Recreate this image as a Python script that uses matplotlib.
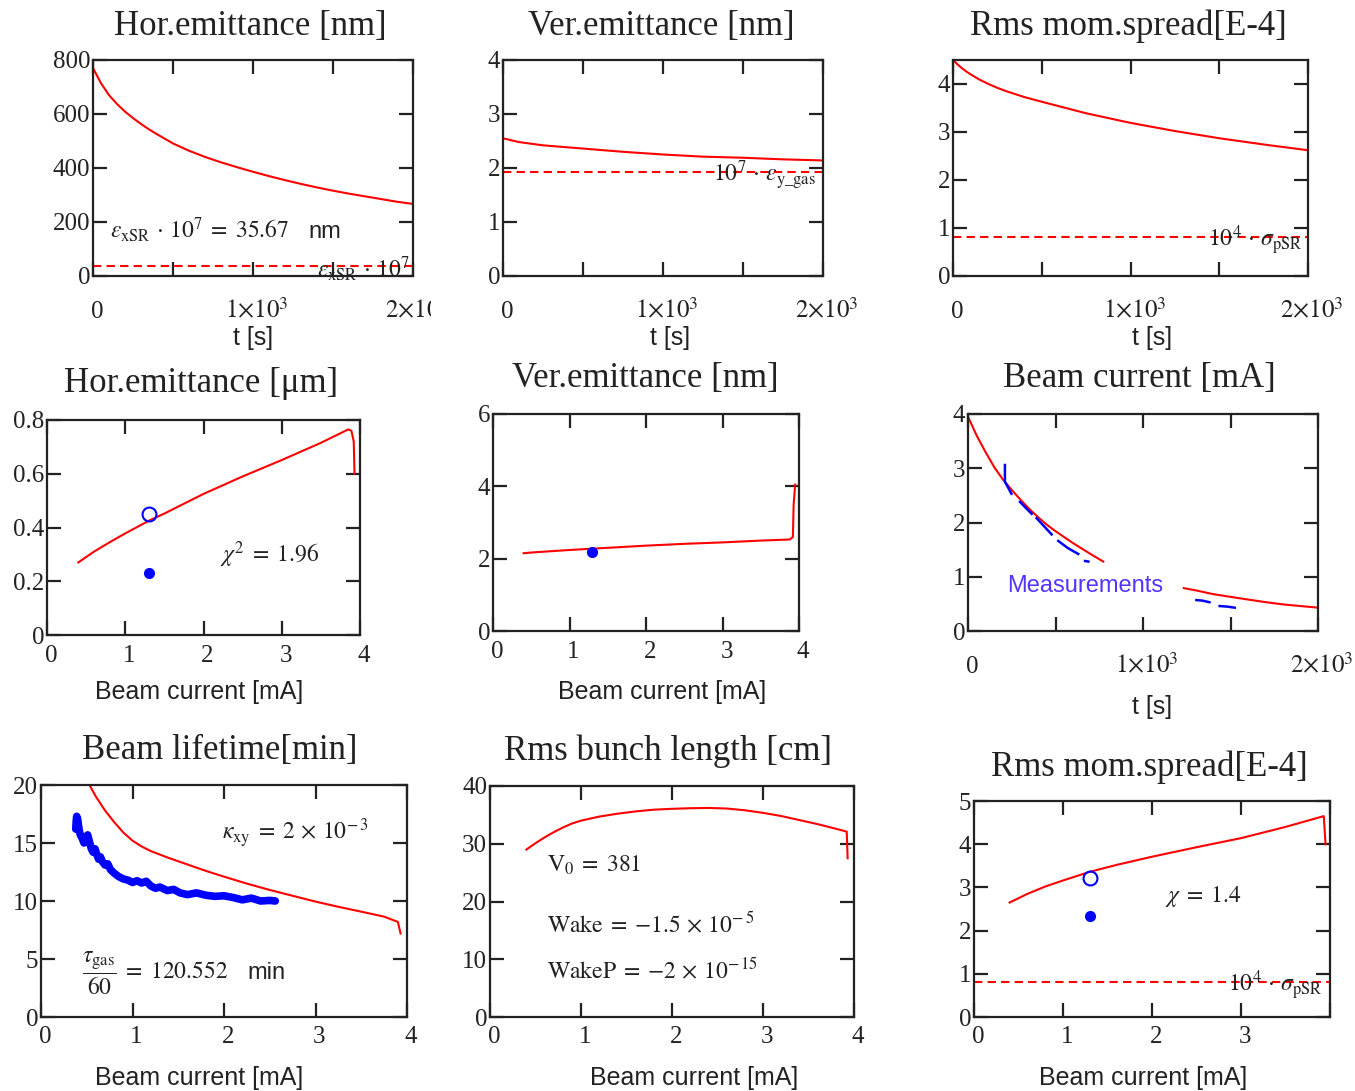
import numpy as np
import matplotlib
matplotlib.use('Agg')
import matplotlib.pyplot as plt
from matplotlib.transforms import Bbox, blended_transform_factory, offset_copy

plt.rcParams['mathtext.fontset'] = 'stix'
plt.rcParams['font.family'] = ['Liberation Serif', 'DejaVu Serif']

W, H = 1355, 1091
RED = '#ff0000'
BLUE = '#0000ff'
INK = '#222222'
MEAS = '#5533ff'
nan = np.nan

# ---------------- data ----------------
# Panel 1: horizontal emittance [nm] vs t [s]
t_hx = [0, 0, 50, 100, 150, 200, 250, 300, 350, 400, 450, 500, 600, 700, 800,
        900, 1000, 1100, 1200, 1300, 1400, 1500, 1600, 1700, 1800, 1900, 2000]
hx_nm = [600, 770, 714, 670, 637, 609, 585, 563, 543, 525, 508, 491, 464, 441,
         421, 403, 386, 370, 355, 341, 328, 316, 305, 295, 285, 275, 267]
eps_xSR_nm = 35.67

# Panel 2: vertical emittance [nm] vs t
t_vy = [0, 0, 100, 250, 500, 750, 1000, 1250, 1500, 1750, 2000]
vy_nm = [4.0, 2.55, 2.48, 2.42, 2.36, 2.30, 2.25, 2.21, 2.19, 2.16, 2.14]
eps_y_gas_nm = 1.93

# Panel 3: rms momentum spread [E-4] vs t
t_sp = [0, 0, 25, 50, 75, 100, 150, 200, 250, 300, 400, 500, 750, 1000, 1250,
        1500, 1750, 2000]
sp_t = [4.0, 4.5, 4.41, 4.33, 4.26, 4.20, 4.09, 4.00, 3.92, 3.85, 3.73, 3.63,
        3.39, 3.19, 3.02, 2.87, 2.74, 2.62]
sigma_pSR = 0.82

# Panel 4: horizontal emittance [um] vs beam current [mA]
I_hx = [0.40, 0.50, 0.60, 0.80, 1.00, 1.30, 1.50, 2.00, 2.50, 3.00, 3.50,
        3.85, 3.89, 3.92, 3.93]
hx_um = [0.270, 0.290, 0.310, 0.345, 0.378, 0.425, 0.452, 0.525, 0.590,
         0.651, 0.715, 0.765, 0.760, 0.720, 0.600]
meas_I = 1.30
hx_meas_open = 0.452
hx_meas_fill = 0.232

# Panel 5: vertical emittance [nm] vs beam current
I_vy = [0.40, 0.50, 1.00, 1.50, 2.00, 2.50, 3.00, 3.50, 3.88, 3.92, 3.93, 3.95]
vy_I = [2.15, 2.17, 2.24, 2.30, 2.36, 2.41, 2.45, 2.50, 2.53, 2.60, 3.50, 4.05]
vy_meas = 2.19

# Panel 6: beam current [mA] vs t [s]; model (red) and measurements (blue)
t_cur = [0, 50, 100, 150, 200, 250, 300, 350, 400, 450, 500, 550, 600, 650,
         700, 773, nan, 1233, 1300, 1400, 1519, 1600, 1705, 1800, 1900, 2000]
cur = [3.95, 3.60, 3.30, 3.02, 2.79, 2.60, 2.42, 2.25, 2.10, 1.96, 1.84, 1.73,
       1.62, 1.52, 1.42, 1.28, nan, 0.79, 0.75, 0.68, 0.62, 0.58, 0.53, 0.49,
       0.46, 0.43]
t_meas = [211, 211, 230, 248, nan, 297, 330, 364, nan, 392, 435, 478, nan,
          516, 570, 630, nan, 669, 688, nan, 1305, 1340, 1380, nan,
          1438, 1480, 1524]
cur_meas = [3.06, 2.75, 2.64, 2.53, nan, 2.38, 2.27, 2.16, nan, 2.08, 1.93,
            1.78, nan, 1.66, 1.53, 1.42, nan, 1.29, 1.28, nan, 0.57, 0.56,
            0.53, nan, 0.46, 0.45, 0.43]

# Panel 7: beam lifetime [min] vs beam current
I_life = [0.53, 0.60, 0.70, 0.80, 0.90, 1.00, 1.10, 1.20, 1.30, 1.40, 1.60,
          1.80, 2.00, 2.25, 2.50, 2.75, 3.00, 3.25, 3.50, 3.75, 3.90, 3.93]
life = [20.0, 19.0, 17.8, 16.8, 15.9, 15.2, 14.7, 14.3, 14.0, 13.7, 13.15,
        12.6, 12.1, 11.5, 10.95, 10.45, 9.95, 9.5, 9.08, 8.65, 8.2, 7.2]
I_life_meas = [0.38, 0.385, 0.39, 0.40, 0.41, 0.42, 0.43, 0.45, 0.47, 0.49,
               0.51, 0.53, 0.55, 0.57, 0.59, 0.61, 0.63, 0.65, 0.67, 0.70,
               0.73, 0.76, 0.80, 0.85, 0.90, 0.95, 1.00, 1.05, 1.10, 1.15,
               1.20, 1.25, 1.30, 1.38, 1.45, 1.52, 1.60, 1.70, 1.80, 1.90,
               2.00, 2.10, 2.20, 2.30, 2.40, 2.50, 2.56]
life_meas = [16.2, 16.9, 17.3, 17.1, 16.5, 16.0, 15.7, 15.4, 15.0, 15.5,
             15.7, 15.1, 14.5, 14.2, 14.5, 14.0, 13.6, 13.8, 13.4, 13.1,
             13.2, 12.7, 12.4, 12.1, 11.9, 11.8, 11.6, 11.75, 11.55, 11.7,
             11.3, 11.1, 11.2, 10.9, 11.0, 10.7, 10.55, 10.7, 10.5, 10.4,
             10.45, 10.3, 10.1, 10.25, 10.0, 10.05, 10.0]

# Panel 8: rms bunch length [cm] vs beam current
I_bl = [0.40, 0.50, 0.60, 0.70, 0.80, 0.90, 1.00, 1.20, 1.40, 1.60, 1.80,
        2.00, 2.20, 2.40, 2.60, 2.80, 3.00, 3.20, 3.40, 3.60, 3.80, 3.92, 3.93]
bl = [29.0, 30.1, 31.1, 32.0, 32.8, 33.5, 34.0, 34.7, 35.2, 35.6, 35.9,
      36.05, 36.15, 36.2, 36.1, 35.8, 35.35, 34.8, 34.1, 33.4, 32.6, 32.1, 27.5]

# Panel 9: rms momentum spread [E-4] vs beam current
I_sp = [0.40, 0.60, 0.80, 1.00, 1.30, 1.60, 2.00, 2.50, 3.00, 3.50, 3.93, 3.95]
sp_I = [2.65, 2.85, 3.02, 3.16, 3.36, 3.52, 3.71, 3.93, 4.14, 4.40, 4.65, 4.00]
sp_meas_open = 3.22
sp_meas_fill = 2.33

# ---------------- figure ----------------
fig = plt.figure(figsize=(W / 100, H / 100), dpi=100)


def add_ax(l, t, r, b):
    return fig.add_axes([l / W, 1 - b / H, (r - l) / W, (b - t) / H])


def ftext(x, y, s, **kw):
    kw.setdefault('color', INK)
    return fig.text(x / W, 1 - y / H, s, **kw)


def style(ax, xlim, ylim, xticks, xlabels, yticks, ylabels, xbase, clip_x=None):
    ax.set_xlim(xlim)
    ax.set_ylim(ylim)
    ax.set_xticks(xticks)
    ax.set_yticks(yticks)
    ax.set_yticklabels(ylabels)
    ax.tick_params(direction='in', length=10, width=1.6, top=True, right=True,
                   colors=INK, labelsize=18)
    ax.tick_params(axis='x', labelbottom=False)
    ax.tick_params(axis='y', pad=2)
    for s in ax.spines.values():
        s.set_linewidth(1.6)
        s.set_color(INK)
    tr = offset_copy(blended_transform_factory(ax.transData, fig.transFigure),
                     fig=fig, x=4, y=0, units='dots')
    for xv, lab in zip(xticks, xlabels):
        if not lab:
            continue
        t = ax.text(xv, 1 - xbase / H, lab, transform=tr, ha='center',
                    va='baseline', fontsize=18, color=INK, clip_on=False)
        if clip_x is not None:
            t.set_clip_box(Bbox.from_extents(0, 0, clip_x, H))
            t.set_clip_on(True)


sci1 = r'$1{\times}10^{3}$'
sci2 = r'$2{\times}10^{3}$'
tx = [0, 500, 1000, 1500, 2000]
txl = ['0', '', sci1, '', sci2]
ix = [0, 1, 2, 3, 4]
ixl = ['0', '1', '2', '3', '4']

TITLE = dict(fontsize=25, ha='center', va='center', family='Liberation Serif')
XLAB = dict(fontsize=18, ha='center', va='center', family='Liberation Sans')
ANN = dict(fontsize=17, ha='left', va='baseline')
DASH = dict(color=RED, lw=1.5, dashes=(4, 2.5))

# Panel 1
ax1 = add_ax(93, 60, 413, 276)
ax1.plot(t_hx, hx_nm, color=RED, lw=1.5)
ax1.axhline(eps_xSR_nm, **DASH)
style(ax1, (0, 2000), (0, 800), tx, txl, [0, 200, 400, 600, 800],
      ['0', '200', '400', '600', '800'], 318, clip_x=431)
ftext(250, 26, 'Hor.emittance [nm]', **TITLE)
ftext(253, 338, 't [s]', **XLAB)
ftext(110, 238, r'$\varepsilon_{\mathrm{xSR}}\,\cdot\,10^{7}\;=\;35.67$', **ANN)
ftext(308, 238, 'nm', fontsize=17, ha='left', va='baseline', family='Liberation Sans')
ftext(317, 277, r'$\varepsilon_{\mathrm{xSR}}\,\cdot\,10^{7}$', **ANN)

# Panel 2
ax2 = add_ax(503, 60, 823, 276)
ax2.plot(t_vy, vy_nm, color=RED, lw=1.5)
ax2.axhline(eps_y_gas_nm, **DASH)
style(ax2, (0, 2000), (0, 4), tx, txl, [0, 1, 2, 3, 4],
      ['0', '1', '2', '3', '4'], 318)
ftext(661, 26, 'Ver.emittance [nm]', **TITLE)
ftext(670, 338, 't [s]', **XLAB)
ftext(713, 182, r'$10^{7}\,\cdot\,\varepsilon_{\mathrm{y\_gas}}$', **ANN)

# Panel 3
ax3 = add_ax(953, 60, 1308, 276)
ax3.plot(t_sp, sp_t, color=RED, lw=1.5)
ax3.axhline(sigma_pSR, **DASH)
style(ax3, (0, 2000), (0, 4.5), tx, txl, [0, 1, 2, 3, 4],
      ['0', '1', '2', '3', '4'], 318)
ftext(1128, 26, 'Rms mom.spread[E-4]', **TITLE)
ftext(1152, 338, 't [s]', **XLAB)
ftext(1208, 247, r'$10^{4}\,\cdot\,\sigma_{\mathrm{pSR}}$', **ANN)

# Panel 4
ax4 = add_ax(47, 420, 360, 635)
ax4.plot(I_hx, hx_um, color=RED, lw=1.5)
ax4.plot([meas_I], [hx_meas_open], 'o', mfc='none', mec=BLUE, mew=1.5, ms=10)
ax4.plot([meas_I], [hx_meas_fill], 'o', color=BLUE, ms=7)
style(ax4, (0, 4), (0, 0.8), ix, ixl, [0, 0.2, 0.4, 0.6, 0.8],
      ['0', '0.2', '0.4', '0.6', '0.8'], 662)
ftext(201, 384, 'Hor.emittance [μm]', **TITLE)
ftext(199, 692, 'Beam current [mA]', **XLAB)
ftext(220, 562, r'$\chi^{2}\;=\;1.96$', **ANN)

# Panel 5
ax5 = add_ax(493, 414, 799, 631)
ax5.plot(I_vy, vy_I, color=RED, lw=1.5)
ax5.plot([meas_I], [vy_meas], 'o', color=BLUE, ms=7)
style(ax5, (0, 4), (0, 6), ix, ixl, [0, 2, 4, 6], ['0', '2', '4', '6'], 658)
ftext(645, 379, 'Ver.emittance [nm]', **TITLE)
ftext(662, 692, 'Beam current [mA]', **XLAB)

# Panel 6
ax6 = add_ax(968, 414, 1318, 631)
ax6.plot(t_cur, cur, color=RED, lw=1.5)
ax6.plot(t_meas, cur_meas, color=BLUE, lw=1.8)
style(ax6, (0, 2000), (0, 4), tx, txl, [0, 1, 2, 3, 4],
      ['0', '1', '2', '3', '4'], 673)
ftext(1139, 379, 'Beam current [mA]', **TITLE)
ftext(1152, 707, 't [s]', **XLAB)
ftext(1007, 592, 'Measurements', fontsize=17, ha='left', va='baseline',
      family='Liberation Sans', color=MEAS)

# Panel 7
ax7 = add_ax(41, 785, 407, 1017)
ax7.plot(I_life, life, color=RED, lw=1.5)
ax7.plot(I_life_meas, life_meas, color=BLUE, lw=5.5, solid_joinstyle='round',
         solid_capstyle='round')
style(ax7, (0, 4), (0, 20), ix, ixl, [0, 5, 10, 15, 20],
      ['0', '5', '10', '15', '20'], 1043)
ftext(220, 751, 'Beam lifetime[min]', **TITLE)
ftext(199, 1078, 'Beam current [mA]', **XLAB)
ftext(222, 840, r'$\kappa_{\mathrm{xy}}\;=\;2\,\times\,10^{-\,3}$', **ANN)
ftext(82, 979, r'$\dfrac{\tau_{\mathrm{gas}}}{60}\;=\;120.552$', **ANN)
ftext(247, 979, 'min', fontsize=17, ha='left', va='baseline', family='Liberation Sans')

# Panel 8
ax8 = add_ax(490, 786, 854, 1017)
ax8.plot(I_bl, bl, color=RED, lw=1.5)
style(ax8, (0, 4), (0, 40), ix, ixl, [0, 10, 20, 30, 40],
      ['0', '10', '20', '30', '40'], 1043)
ftext(668, 751, 'Rms bunch length [cm]', **TITLE)
ftext(694, 1078, 'Beam current [mA]', **XLAB)
ftext(547, 872, r'$\mathrm{V}_{0}\;=\;381$', **ANN)
ftext(547, 932, r'$\mathrm{Wake}\;=\;{-}1.5\,\times\,10^{-\,5}$', **ANN)
ftext(547, 978, r'$\mathrm{WakeP}\;=\;{-}2\,\times\,10^{-\,15}$', **ANN)

# Panel 9
ax9 = add_ax(974, 801, 1330, 1017)
ax9.plot(I_sp, sp_I, color=RED, lw=1.5)
ax9.axhline(sigma_pSR, **DASH)
ax9.plot([meas_I], [sp_meas_open], 'o', mfc='none', mec=BLUE, mew=1.5, ms=10)
ax9.plot([meas_I], [sp_meas_fill], 'o', color=BLUE, ms=7)
style(ax9, (0, 4), (0, 5), ix, ['0', '1', '2', '3', ''], [0, 1, 2, 3, 4, 5],
      ['0', '1', '2', '3', '4', '5'], 1043)
ftext(1149, 767, 'Rms mom.spread[E-4]', **TITLE)
ftext(1143, 1078, 'Beam current [mA]', **XLAB)
ftext(1165, 902, r'$\chi\;=\;1.4$', **ANN)
ftext(1228, 992, r'$10^{4}\,\cdot\,\sigma_{\mathrm{pSR}}$', **ANN)

fig.savefig('out.png', dpi=100, facecolor='white')
